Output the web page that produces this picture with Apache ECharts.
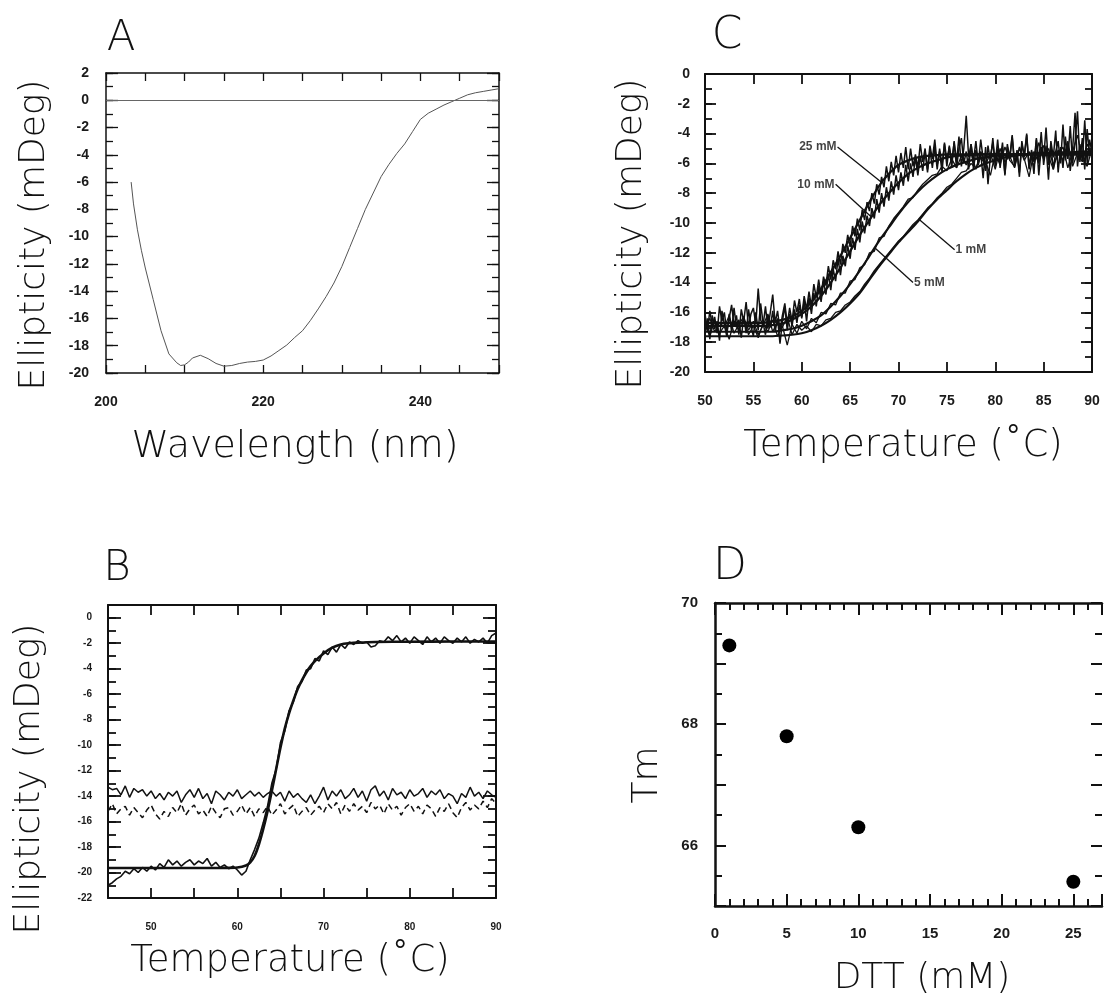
<!DOCTYPE html>
<html>
<head>
<meta charset="utf-8">
<script src="https://cdn.jsdelivr.net/npm/echarts@6/dist/echarts.min.js"></script>
<style>
html,body{margin:0;padding:0;background:#fff;}
#chart{width:1105px;height:1000px;}
</style>
</head>
<body>
<div id="chart"></div>
<script>
// ---------------- Panel A : CD spectrum ----------------
const aWave = [203.2,203.5,204,204.5,205,206,207,208,209,209.5,210,210.5,211,212,213,214,215,216,217,218,219,220,221,222,223,224,225,226,227,228,229,230,231,232,233,234,235,236,237,238,239,240,241,242,243,244,245,246,247,248,249,250];
const aEllip = [-6.0,-7.6,-9.5,-11.0,-12.3,-14.6,-16.9,-18.6,-19.25,-19.45,-19.4,-19.2,-18.9,-18.7,-18.95,-19.3,-19.5,-19.45,-19.3,-19.2,-19.15,-19.05,-18.75,-18.35,-17.95,-17.4,-16.9,-16.15,-15.3,-14.4,-13.4,-12.2,-10.8,-9.4,-8.0,-6.8,-5.6,-4.7,-3.9,-3.2,-2.3,-1.4,-0.95,-0.65,-0.35,-0.1,0.15,0.4,0.55,0.65,0.75,0.85];

// ---------------- Panel B : thermal melt ----------------
const bTemp = [45,45.5,46,46.5,47,47.5,48,48.5,49,49.5,50,50.5,51,51.5,52,52.5,53,53.5,54,54.5,55,55.5,56,56.5,57,57.5,58,58.5,59,59.5,60,60.5,61,61.5,62,62.5,63,63.5,64,64.5,65,65.5,66,66.5,67,67.5,68,68.5,69,69.5,70,70.5,71,71.5,72,72.5,73,73.5,74,74.5,75,75.5,76,76.5,77,77.5,78,78.5,79,79.5,80,80.5,81,81.5,82,82.5,83,83.5,84,84.5,85,85.5,86,86.5,87,87.5,88,88.5,89,89.5,90];
const bMelt = [-21.0,-20.8,-20.5,-20.3,-19.9,-20.1,-19.7,-20.0,-19.6,-19.9,
  -19.5,-19.8,-19.3,-19.6,-19.0,-19.4,-19.1,-19.5,-19.2,-19.0,
  -19.4,-19.1,-19.3,-18.9,-19.5,-19.2,-19.6,-19.4,-19.7,-19.5,
  -19.8,-20.2,-19.9,-19.0,-18.2,-17.3,-16.1,-14.8,-13.0,-11.9,
  -9.8,-8.9,-7.3,-6.6,-5.4,-5.0,-4.1,-4.0,-3.2,-3.4,
  -2.6,-2.9,-2.3,-2.7,-2.1,-2.4,-1.9,-2.1,-1.8,-2.0,
  -1.9,-2.3,-2.2,-1.8,-1.9,-1.5,-1.8,-1.4,-1.9,-1.6,
  -2.0,-1.5,-1.8,-2.1,-1.5,-1.9,-1.6,-2.0,-1.5,-1.8,
  -2.0,-1.6,-1.9,-1.5,-2.0,-1.7,-1.9,-1.6,-2.0,-1.4,
  -1.2];
const bFlatSolid = [-13.3,-13.5,-13.4,-13.9,-13.2,-14.1,-13.4,-13.7,-13.5,-14.0,
  -13.6,-14.2,-13.8,-14.3,-13.7,-14.0,-13.6,-14.5,-13.9,-13.5,
  -14.1,-13.4,-14.2,-13.8,-14.6,-13.6,-13.9,-14.3,-13.7,-14.0,
  -13.5,-14.2,-13.9,-13.6,-14.0,-13.7,-14.1,-13.8,-13.6,-14.0,
  -13.7,-14.4,-13.6,-14.1,-13.8,-14.2,-14.5,-13.9,-14.6,-14.0,
  -13.3,-14.3,-13.6,-14.0,-13.5,-14.2,-13.9,-13.4,-14.1,-13.6,
  -14.4,-13.5,-13.2,-14.0,-13.6,-14.3,-13.4,-13.9,-13.7,-14.2,
  -13.5,-14.0,-13.8,-13.4,-14.1,-13.6,-13.9,-13.5,-14.2,-13.8,
  -14.0,-14.6,-13.8,-14.1,-13.3,-14.0,-13.7,-14.2,-13.6,-13.9,
  -14.1];
const bFlatDashed = [-15.2,-14.6,-15.4,-15.0,-14.8,-15.5,-14.9,-15.3,-15.7,-15.1,
  -14.7,-15.4,-15.8,-15.2,-15.6,-14.9,-15.3,-14.6,-15.5,-15.0,
  -14.7,-15.4,-15.1,-15.6,-14.8,-15.3,-15.7,-15.0,-14.9,-15.5,
  -15.2,-14.7,-15.4,-14.9,-15.6,-15.0,-15.3,-14.8,-15.5,-15.1,
  -14.6,-15.4,-15.0,-14.7,-15.6,-15.2,-14.9,-15.5,-15.1,-14.8,
  -15.3,-14.6,-15.0,-14.5,-15.4,-14.7,-15.2,-14.6,-15.1,-14.8,
  -15.3,-14.5,-15.0,-14.7,-15.4,-14.6,-15.1,-14.8,-15.5,-14.9,
  -14.6,-15.2,-14.8,-15.4,-14.7,-15.0,-15.6,-14.9,-15.2,-14.6,
  -15.3,-15.7,-14.9,-14.5,-15.1,-14.7,-15.0,-14.4,-14.9,-14.2,
  -14.6];
const bFitTemp = [45,50,55,58,60,61,61.5,62,62.5,63,63.5,64,64.5,65,65.5,66,66.5,67,67.5,68,68.5,69,70,71,72,73,74,76,80,85,90];
const bFit = [-19.65,-19.65,-19.65,-19.64,-19.6,-19.45,-19.2,-18.7,-17.8,-16.6,-15.2,-13.6,-11.9,-10.2,-8.7,-7.5,-6.5,-5.6,-4.9,-4.3,-3.8,-3.4,-2.8,-2.35,-2.1,-2.0,-1.95,-1.9,-1.88,-1.87,-1.86];

// ---------------- Panel C : melts at several DTT concentrations ----------------
const cTempFine = [50,50.25,50.5,50.75,51,51.25,51.5,51.75,52,52.25,52.5,52.75,53,53.25,53.5,53.75,54,54.25,54.5,54.75,
  55,55.25,55.5,55.75,56,56.25,56.5,56.75,57,57.25,57.5,57.75,58,58.25,58.5,58.75,59,59.25,59.5,59.75,
  60,60.25,60.5,60.75,61,61.25,61.5,61.75,62,62.25,62.5,62.75,63,63.25,63.5,63.75,64,64.25,64.5,64.75,
  65,65.25,65.5,65.75,66,66.25,66.5,66.75,67,67.25,67.5,67.75,68,68.25,68.5,68.75,69,69.25,69.5,69.75,
  70,70.25,70.5,70.75,71,71.25,71.5,71.75,72,72.25,72.5,72.75,73,73.25,73.5,73.75,74,74.25,74.5,74.75,
  75,75.25,75.5,75.75,76,76.25,76.5,76.75,77,77.25,77.5,77.75,78,78.25,78.5,78.75,79,79.25,79.5,79.75,
  80,80.25,80.5,80.75,81,81.25,81.5,81.75,82,82.25,82.5,82.75,83,83.25,83.5,83.75,84,84.25,84.5,84.75,
  85,85.25,85.5,85.75,86,86.25,86.5,86.75,87,87.25,87.5,87.75,88,88.25,88.5,88.75,89,89.25,89.5,89.75,90];
const cTemp = [50,50.5,51,51.5,52,52.5,53,53.5,54,54.5,55,55.5,56,56.5,57,57.5,58,58.5,59,59.5,60,60.5,61,61.5,62,62.5,63,63.5,64,64.5,65,65.5,66,66.5,67,67.5,68,68.5,69,69.5,70,70.5,71,71.5,72,72.5,73,73.5,74,74.5,75,75.5,76,76.5,77,77.5,78,78.5,79,79.5,80,80.5,81,81.5,82,82.5,83,83.5,84,84.5,85,85.5,86,86.5,87,87.5,88,88.5,89,89.5,90];
const c25mM = [-16.1,-17.2,-15.9,-16.9, -16.3,-17.4,-15.6,-16.6, -16.0,-17.3,-16.4,-15.5, -16.9,-16.2,-17.5,-15.8, -16.6,-15.3,-17.0,-16.1,
  -15.7,-16.8,-14.4,-16.5, -16.9,-15.6,-17.1,-16.0, -14.8,-16.7,-15.9,-17.2, -16.2,-15.4,-16.8,-15.7, -16.6,-15.2,-16.0,-15.1,
  -16.3,-14.9,-15.8,-14.6, -15.6,-14.1,-15.0,-13.8, -14.9,-13.6,-14.2,-12.9, -13.8,-12.5,-13.1,-11.9, -12.8,-11.4,-12.0,-10.8,
  -11.6,-10.2,-10.9,-9.7, -10.5,-9.1,-9.8,-8.6, -9.2,-8.0,-8.7,-7.4, -8.1,-6.9,-7.6,-6.2, -7.2,-5.9,-6.8,-5.5,
  -6.6,-5.3,-6.3,-4.9, -6.4,-5.0,-6.2,-5.4, -6.3,-4.7,-5.9,-5.0, -6.4,-4.8,-5.7,-4.4, -6.1,-5.2,-6.6,-4.6,
  -5.8,-4.9,-6.3,-4.5, -5.9,-4.2,-6.2,-5.0, -2.8,-5.6,-4.7,-6.4, -5.1,-6.0,-4.4,-5.7, -6.5,-4.8,-5.9,-4.3,
  -6.2,-5.0,-5.8,-4.6, -6.7,-4.9,-5.6,-4.1, -6.0,-5.3,-6.6,-4.7, -5.5,-4.0,-6.3,-5.1, -5.9,-4.4,-6.8,-4.9,
  -5.7,-3.6,-6.1,-4.8, -6.4,-5.2,-4.5,-6.0, -3.4,-5.8,-4.6,-6.5, -5.0,-2.6,-6.2,-4.7, -5.8,-3.1,-6.0,-4.4,
  -5.3];
const c10mM = [-17.5,-16.4,-17.8,-16.2, -17.1,-16.6,-17.9,-15.9, -16.8,-17.6,-16.1,-17.3, -15.7,-17.0,-16.5,-17.7, -16.3,-17.4,-15.8,-16.9,
  -17.6,-16.0,-17.2,-15.4, -16.7,-17.5,-16.2,-17.0, -15.9,-17.3,-16.4,-18.1, -16.6,-15.6,-17.2,-16.1, -16.9,-15.8,-16.7,-15.5,
  -16.4,-15.2,-16.6,-15.0, -16.1,-14.7,-15.6,-14.2, -15.3,-13.9,-14.8,-13.4, -14.5,-13.1,-13.9,-12.4, -13.5,-12.2,-12.9,-11.5,
  -12.4,-11.0,-11.8,-10.4, -11.3,-9.9,-10.7,-9.5, -10.2,-9.0,-9.7,-8.4, -9.3,-8.0,-8.9,-7.6, -8.5,-7.2,-8.1,-6.8,
  -7.8,-6.6,-7.5,-6.1, -7.2,-6.0,-6.9,-5.6, -6.8,-5.5,-6.5,-5.2, -6.6,-5.1,-6.3,-4.9, -6.4,-5.0,-6.1,-4.7,
  -6.2,-4.8,-5.9,-4.6, -6.3,-5.0,-4.3,-6.0, -5.2,-6.4,-4.7,-5.8, -4.5,-6.1,-5.3,-7.0, -4.9,-7.4,-5.5,-4.6,
  -6.0,-4.4,-6.3,-5.0, -6.8,-4.7,-5.7,-4.2, -6.2,-5.1,-6.9,-4.5, -5.6,-4.1,-6.4,-5.3, -6.7,-4.3,-5.9,-3.9,
  -6.1,-4.8,-7.1,-4.5, -5.6,-3.8,-6.6,-4.9, -6.3,-4.2,-5.7,-3.5, -6.0,-4.6,-2.5,-5.9, -4.3,-6.4,-3.7,-5.5,
  -4.8];
const c5mM = [-16.8,-17.6,-16.5,-17.4,-16.9,-17.8,-16.6,-17.2,-16.4,-17.5,
  -16.9,-17.7,-16.7,-17.3,-16.5,-17.6,-16.9,-18.2,-16.8,-17.4,
  -16.6,-17.1,-16.4,-16.7,-16.0,-16.1,-15.4,-15.5,-14.7,-14.7,
  -13.9,-13.8,-13.0,-12.8,-12.0,-11.9,-11.0,-10.9,-10.2,-9.7,
  -9.3,-8.9,-8.4,-8.3,-7.8,-7.4,-7.1,-6.8,-6.7,-6.2,
  -6.5,-5.7,-6.3,-5.5,-6.1,-5.3,-6.4,-5.2,-5.9,-6.8,
  -5.3,-6.1,-4.9,-5.8,-6.2,-5.0,-5.7,-6.9,-5.2,-6.0,
  -4.8,-5.5,-6.4,-5.1,-5.8,-4.5,-6.2,-5.3,-5.9,-4.7,
  -5.5];
const c1mM = [-17.1,-16.4,-17.3,-16.7,-17.0,-16.2,-17.4,-16.8,-16.3,-17.2,
  -16.6,-17.5,-16.9,-16.1,-17.3,-16.6,-17.0,-16.3,-17.5,-16.8,
  -17.2,-16.9,-17.3,-16.8,-16.9,-16.5,-16.4,-16.0,-15.9,-15.5,
  -15.3,-14.9,-14.6,-14.1,-13.7,-13.2,-12.8,-12.4,-12.0,-11.6,
  -11.2,-10.9,-10.5,-10.1,-9.8,-9.4,-9.0,-8.7,-8.3,-8.0,
  -7.6,-7.4,-7.0,-6.6,-6.5,-6.0,-6.3,-5.6,-6.1,-5.3,
  -6.4,-5.0,-5.9,-5.5,-6.3,-4.9,-5.8,-5.2,-6.2,-4.6,
  -5.7,-5.0,-6.1,-5.4,-4.9,-6.3,-5.2,-4.1,-5.7,-6.2,
  -5.0];
const cFitTemp = [50,51,52,53,54,55,56,57,58,59,60,61,62,63,64,65,66,67,68,69,70,71,72,73,74,75,76,77,78,79,80,81,82,83,84,85,86,87,88,89,90];
const cFit1mM = [-17.6,-17.6,-17.6,-17.6,-17.6,-17.6,-17.6,-17.6,-17.55,-17.5,-17.4,-17.2,-16.9,-16.5,-16.0,-15.4,-14.7,-13.8,-12.9,-12.1,-11.3,-10.6,-9.9,-9.1,-8.4,-7.8,-7.2,-6.7,-6.3,-6.0,-5.8,-5.6,-5.5,-5.4,-5.35,-5.3,-5.3,-5.25,-5.25,-5.2,-5.2];
const cFit5mM = [-17.3,-17.3,-17.3,-17.3,-17.3,-17.3,-17.3,-17.3,-17.2,-17.1,-16.9,-16.6,-16.2,-15.6,-14.9,-14.1,-13.2,-12.2,-11.2,-10.3,-9.4,-8.6,-7.9,-7.3,-6.8,-6.4,-6.1,-5.9,-5.7,-5.6,-5.5,-5.45,-5.4,-5.4,-5.35,-5.35,-5.3,-5.3,-5.3,-5.3,-5.3];
const cFit10mM = [-16.9,-16.9,-16.9,-16.9,-16.9,-16.9,-16.9,-16.85,-16.75,-16.5,-16.1,-15.6,-14.9,-14.0,-13.0,-11.9,-10.8,-9.8,-8.8,-8.0,-7.3,-6.7,-6.3,-6.0,-5.8,-5.6,-5.5,-5.45,-5.4,-5.4,-5.4,-5.4,-5.4,-5.4,-5.4,-5.4,-5.4,-5.4,-5.4,-5.4,-5.4];
const cFit25mM = [-16.7,-16.7,-16.7,-16.7,-16.7,-16.7,-16.7,-16.6,-16.5,-16.3,-15.9,-15.3,-14.4,-13.3,-12.2,-11.0,-9.8,-8.6,-7.5,-6.7,-6.1,-5.8,-5.6,-5.5,-5.45,-5.4,-5.4,-5.4,-5.4,-5.4,-5.4,-5.4,-5.4,-5.4,-5.4,-5.4,-5.4,-5.4,-5.4,-5.4,-5.4];
const cNoteText = ['25 mM','10 mM','1 mM','5 mM'];
const cNoteFrom = [[63.7,-4.9],[63.5,-7.4],[75.8,-11.8],[71.5,-14.0]];
const cNoteTo = [[68.3,-7.3],[67.2,-9.6],[72.2,-9.8],[67.6,-11.7]];
const cNoteSide = ['left','left','right','right'];

// ---------------- Panel D : Tm vs DTT ----------------
const dDTT = [1,5,10,25];
const dTm = [69.3,67.8,66.3,65.4];

// ---------------- helpers ----------------
function zip(xs, ys){ return xs.map((x,i)=>[x, ys[i]]); }

const xAxes = [], yAxes = [];
const primX = [], primY = [];
function addAxes(list, prim, gi, dim, c){
  const pos = dim === 'x' ? ['bottom','top'] : ['left','right'];
  pos.forEach((p,k)=>{
    if (k === 0) prim[gi] = list.length;
    const lineShown = !(k === 1 && c.hideFarLine);
    list.push({
      type:'value', gridIndex:gi, position:p, min:c.min, max:c.max, interval:c.major,
      axisLine:{show:lineShown, onZero:false, lineStyle:{color:'#111', width:c.lw}},
      axisTick:{show:true, inside:true, length:c.majorLen, lineStyle:{color:'#111', width:c.tw}},
      axisLabel: k===0 ? {show:true, margin:c.margin, fontFamily:'Liberation Sans', fontWeight:'bold', fontSize:c.fs, color:'#1a1a1a', formatter:c.fmt, showMinLabel:true, showMaxLabel:true, hideOverlap:false} : {show:false},
      splitLine:{show:false}
    });
    if (c.minor) {
      list.push({
        type:'value', gridIndex:gi, position:p, min:c.min, max:c.max, interval:c.minor,
        axisLine:{show:false, onZero:false},
        axisTick:{show:true, inside:true, length:c.minorLen, lineStyle:{color:'#111', width:c.tw}},
        axisLabel:{show:false}, splitLine:{show:false}
      });
    }
  });
}
const fmtEvery = n => v => (Math.abs(v % n) < 1e-9 ? String(v) : '');

// grid 0 = A, 1 = C, 2 = B, 3 = D
addAxes(xAxes, primX, 0, 'x', {min:200, max:250, major:5, minor:null, majorLen:8, lw:1.5, tw:1.3, fs:14, margin:22, fmt:fmtEvery(20)});
addAxes(yAxes, primY, 0, 'y', {min:-20, max:2, major:2, minor:1, majorLen:12, minorLen:7, lw:1.5, tw:1.3, fs:14, margin:17, fmt:v=>String(v)});
addAxes(xAxes, primX, 1, 'x', {min:50, max:90, major:5, minor:null, majorLen:10, lw:2, tw:1.8, fs:14, margin:22, fmt:v=>String(v)});
addAxes(yAxes, primY, 1, 'y', {min:-20, max:0, major:2, minor:1, majorLen:11, minorLen:7, lw:2, tw:1.8, fs:14, margin:15, fmt:v=>String(v)});
addAxes(xAxes, primX, 2, 'x', {min:45, max:90, major:5, minor:null, majorLen:10, lw:2, tw:1.8, fs:10, margin:24, fmt:fmtEvery(10)});
addAxes(yAxes, primY, 2, 'y', {min:-22, max:1, major:2, minor:1, majorLen:13, minorLen:8, lw:2, tw:1.8, fs:10, margin:16, fmt:v=>(v>0?'':String(v))});
addAxes(xAxes, primX, 3, 'x', {min:0, max:27, major:5, minor:1, majorLen:12, minorLen:7, lw:2.5, tw:2, fs:15, margin:20, fmt:fmtEvery(5)});
addAxes(yAxes, primY, 3, 'y', {min:65, max:70, major:1, minor:0.5, majorLen:11, minorLen:7, lw:2.5, tw:2, fs:15, margin:17, fmt:fmtEvery(2), hideFarLine:true});

function lineSeries(gi, data, width, extra){
  return Object.assign({
    type:'line', xAxisIndex:primX[gi], yAxisIndex:primY[gi], data:data,
    showSymbol:false, symbol:'none', smooth:false, clip:true,
    lineStyle:{color:'#111', width:width}, emphasis:{disabled:true}, silent:true
  }, extra || {});
}

const series = [];
// A
series.push(lineSeries(0, zip(aWave, aEllip), 1, {
  lineStyle:{color:'#555', width:1},
  markLine:{silent:true, symbol:['none','none'], label:{show:false},
    lineStyle:{color:'#666', width:1, type:'solid'}, data:[{yAxis:0}]}
}));
// C noisy traces
series.push(lineSeries(1, zip(cTempFine, c25mM), 1.5));
series.push(lineSeries(1, zip(cTempFine, c10mM), 1.5));
series.push(lineSeries(1, zip(cTemp, c5mM), 1.3));
series.push(lineSeries(1, zip(cTemp, c1mM), 1.3));
// C fits
[cFit1mM, cFit5mM, cFit10mM, cFit25mM].forEach(arr => series.push(lineSeries(1, zip(cFitTemp, arr), 2.2, {smooth:0.3})));
// C annotations
series.push({
  type:'scatter', xAxisIndex:primX[1], yAxisIndex:primY[1], symbolSize:0, silent:true,
  data: cNoteFrom.map((p,i)=>({value:p, label:{show:true, position:cNoteSide[i], distance:1, formatter:cNoteText[i],
    fontFamily:'Liberation Sans', fontWeight:'bold', fontSize:12, color:'#111'}})),
  markLine:{silent:true, symbol:['none','arrow'], symbolSize:[0,9], label:{show:false}, animation:false,
    lineStyle:{color:'#111', width:1.3, type:'solid'},
    data: cNoteFrom.map((p,i)=>[{coord:p}, {coord:cNoteTo[i]}])}
});
// B
series.push(lineSeries(2, zip(bTemp, bFlatSolid), 1.5));
series.push(lineSeries(2, zip(bTemp, bFlatDashed), 1.5, {lineStyle:{color:'#111', width:1.5, type:[6,4]}}));
series.push(lineSeries(2, zip(bTemp, bMelt), 1.6));
series.push(lineSeries(2, zip(bFitTemp, bFit), 2.6, {smooth:0.3}));
// D
series.push({type:'scatter', xAxisIndex:primX[3], yAxisIndex:primY[3], data:zip(dDTT, dTm),
  symbol:'circle', symbolSize:14, itemStyle:{color:'#000', opacity:1}, silent:true});

const titleFont = {fontFamily:'DejaVu Sans', fontWeight:200, fill:'#111'};
function txt(text, x, y, size, rot){
  return {type:'text', x:x, y:y, rotation:rot||0, silent:true,
    style:Object.assign({text:text, fontSize:size, align:'center', verticalAlign:'middle'}, titleFont)};
}

const option = {
  animation:false,
  backgroundColor:'#fff',
  grid:[
    {left:106, top:73, width:393, height:300},
    {left:705, top:74, width:387, height:298},
    {left:108, top:605, width:388, height:293},
    {left:715, top:603, width:393, height:303}
  ],
  xAxis:xAxes,
  yAxis:yAxes,
  series:series,
  graphic:[
    txt('A', 121, 39, 42),
    txt('C', 727, 37, 44),
    txt('B', 117, 569, 42),
    txt('D', 730, 568, 44),
    txt('Wavelength (nm)', 295, 447, 38),
    txt('Ellipticity (mDeg)', 35, 235, 36, Math.PI/2),
    txt('Temperature (˚C)', 903, 446, 37),
    txt('Ellipticity (mDeg)', 632, 234, 36, Math.PI/2),
    txt('Temperature (˚C)', 290, 961, 37),
    txt('Ellipticity (mDeg)', 30, 779, 36, Math.PI/2),
    txt('DTT (mM)', 922, 979, 36),
    txt('Tm', 648, 775, 36, Math.PI/2)
  ]
};
echarts.init(document.getElementById('chart'), null, {renderer:'canvas'}).setOption(option);
</script>
</body>
</html>
